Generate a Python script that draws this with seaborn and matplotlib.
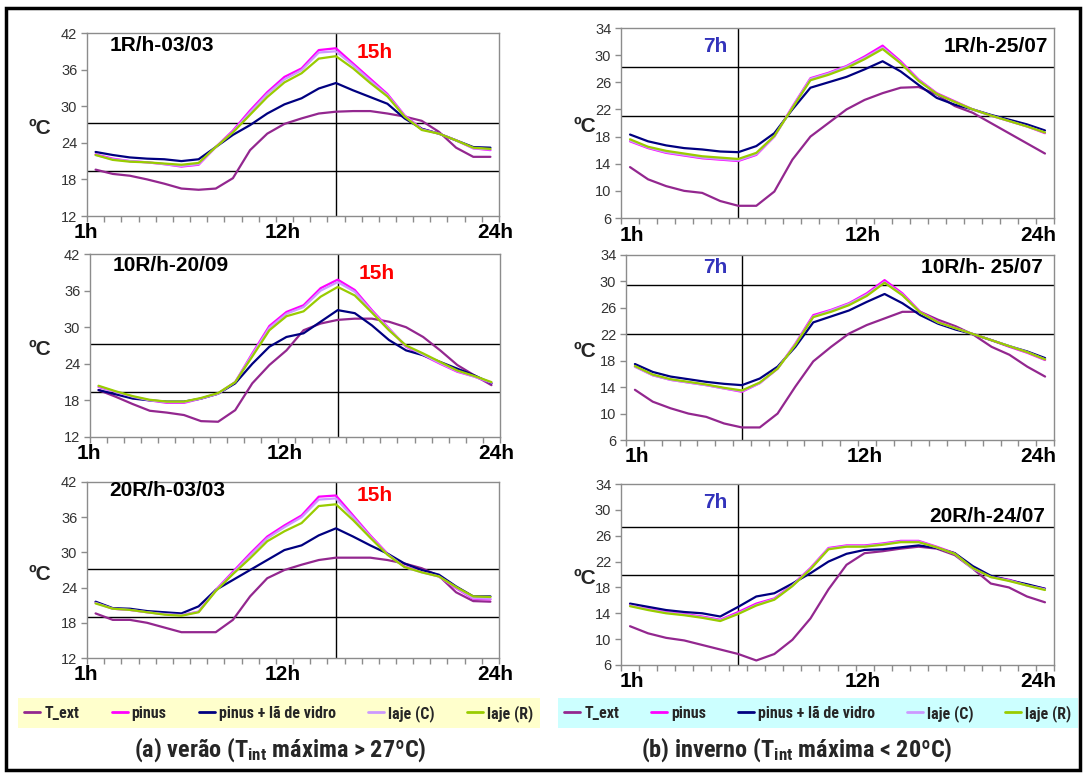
import numpy as np
import pandas as pd
import seaborn as sns
import matplotlib
matplotlib.use("Agg")
import matplotlib.pyplot as plt
from matplotlib.lines import Line2D
from matplotlib.patches import Rectangle
from matplotlib.font_manager import FontProperties, fontManager
from matplotlib import transforms

# ---------------- data ----------------
hours = list(range(1, 25))
series_names = ["T_ext", "pinus", "pinus + lã de vidro", "laje (C)", "laje (R)"]
series_colors = ["#93278f", "#ff00ff", "#000080", "#cc99ff", "#99cc00"]

# verão 1R/h-03/03
ver1_text = [19.6, 18.9, 18.6, 18.0, 17.3, 16.5, 16.3, 16.5, 18.2, 22.8, 25.5, 27.1, 28.0, 28.8, 29.1, 29.2, 29.2, 28.8, 28.3, 27.6, 25.8, 23.2, 21.7, 21.7]
ver1_pinus = [22.1, 21.4, 21.0, 20.8, 20.5, 20.1, 20.4, 23.3, 26.0, 29.3, 32.3, 34.8, 36.2, 39.2, 39.5, 37.0, 34.5, 32.0, 28.5, 26.3, 25.5, 24.4, 23.1, 22.8]
ver1_pinus_la = [22.5, 22.0, 21.6, 21.4, 21.3, 21.0, 21.3, 23.3, 25.3, 26.9, 28.8, 30.3, 31.3, 32.9, 33.8, 32.6, 31.5, 30.4, 28.0, 26.3, 25.5, 24.4, 23.3, 23.2]
ver1_lajeC = [22.0, 21.3, 21.0, 20.8, 20.5, 20.2, 20.5, 23.3, 25.8, 29.0, 32.0, 34.4, 35.9, 38.8, 39.0, 36.7, 34.2, 31.8, 28.4, 26.2, 25.5, 24.4, 23.1, 22.9]
ver1_lajeR = [22.0, 21.2, 20.9, 20.8, 20.6, 20.4, 20.7, 23.3, 25.7, 28.6, 31.5, 33.9, 35.4, 37.8, 38.2, 36.2, 33.8, 31.6, 28.3, 26.1, 25.5, 24.4, 23.2, 23.0]

# verão 10R/h-20/09
ver2_text = [19.7, 18.6, 17.4, 16.3, 16.0, 15.6, 14.6, 14.5, 16.4, 20.8, 23.8, 26.2, 29.5, 30.6, 31.2, 31.4, 31.4, 30.9, 30.0, 28.4, 26.2, 23.8, 22.1, 20.5]
ver2_pinus = [20.2, 19.4, 18.6, 18.0, 17.6, 17.6, 18.3, 19.1, 21.0, 25.7, 30.2, 32.5, 33.6, 36.4, 37.8, 36.1, 32.8, 29.8, 26.8, 25.4, 24.0, 22.7, 21.9, 20.8]
ver2_pinus_la = [19.7, 19.0, 18.3, 18.0, 17.8, 17.8, 18.3, 19.1, 20.8, 24.0, 26.8, 28.4, 29.0, 30.9, 32.8, 32.3, 30.3, 27.9, 26.2, 25.4, 24.3, 23.2, 22.1, 20.8]
ver2_lajeC = [20.3, 19.4, 18.6, 18.0, 17.7, 17.7, 18.3, 19.1, 21.0, 25.5, 29.9, 32.2, 33.3, 36.0, 37.4, 35.8, 32.6, 29.7, 26.9, 25.5, 24.1, 22.8, 21.9, 20.9]
ver2_lajeR = [20.4, 19.5, 18.7, 18.1, 17.8, 17.8, 18.4, 19.2, 21.0, 25.2, 29.5, 31.8, 32.6, 35.0, 36.6, 35.2, 32.4, 29.5, 27.0, 25.7, 24.3, 22.9, 22.0, 21.0]

# verão 20R/h-03/03
ver3_text = [19.6, 18.5, 18.5, 18.0, 17.2, 16.4, 16.4, 16.4, 18.5, 22.5, 25.6, 27.0, 27.9, 28.7, 29.1, 29.1, 29.1, 28.7, 28.1, 27.3, 26.0, 23.2, 21.7, 21.6]
ver3_pinus = [21.5, 20.4, 20.2, 19.8, 19.5, 19.3, 19.9, 23.6, 26.7, 29.8, 32.7, 34.6, 36.3, 39.5, 39.7, 36.3, 32.9, 29.8, 27.6, 26.7, 25.9, 23.9, 22.1, 22.0]
ver3_pinus_la = [21.6, 20.5, 20.4, 20.0, 19.8, 19.6, 20.8, 23.6, 25.3, 27.0, 28.7, 30.4, 31.2, 32.9, 34.1, 32.7, 31.2, 29.8, 28.1, 27.0, 26.2, 24.2, 22.5, 22.5]
ver3_lajeC = [21.4, 20.4, 20.2, 19.8, 19.5, 19.3, 19.9, 23.5, 26.5, 29.5, 32.4, 34.3, 36.0, 39.0, 39.2, 36.0, 32.7, 29.7, 27.5, 26.6, 25.9, 24.0, 22.2, 22.1]
ver3_lajeR = [21.3, 20.4, 20.2, 19.8, 19.4, 19.2, 19.8, 23.4, 26.3, 29.0, 31.9, 33.6, 35.0, 37.9, 38.2, 35.5, 32.5, 29.6, 27.5, 26.6, 25.9, 24.1, 22.5, 22.4]

# inverno 1R/h-25/07
inv1_text = [13.5, 11.7, 10.7, 10.0, 9.7, 8.5, 7.8, 7.8, 9.9, 14.6, 18.0, 20.0, 22.0, 23.4, 24.4, 25.2, 25.3, 24.2, 22.5, 21.5, 20.0, 18.5, 17.0, 15.5]
inv1_pinus = [17.3, 16.3, 15.6, 15.2, 14.8, 14.6, 14.4, 15.3, 18.0, 22.4, 26.6, 27.4, 28.4, 29.8, 31.4, 29.1, 26.4, 24.4, 23.2, 22.0, 21.1, 20.3, 19.5, 18.5]
inv1_pinus_la = [18.3, 17.3, 16.7, 16.3, 16.1, 15.8, 15.7, 16.6, 18.5, 22.0, 25.2, 26.0, 26.8, 27.9, 29.1, 27.6, 25.6, 23.7, 22.7, 22.0, 21.2, 20.5, 19.8, 18.9]
inv1_lajeC = [17.4, 16.4, 15.7, 15.3, 14.9, 14.7, 14.5, 15.4, 18.0, 22.3, 26.5, 27.3, 28.3, 29.6, 31.1, 28.9, 26.3, 24.3, 23.1, 22.0, 21.1, 20.3, 19.5, 18.6]
inv1_lajeR = [17.6, 16.5, 15.9, 15.5, 15.1, 14.9, 14.7, 15.6, 18.1, 22.2, 26.3, 27.1, 28.1, 29.4, 30.9, 28.8, 26.2, 24.3, 23.1, 22.0, 21.1, 20.3, 19.5, 18.6]

# inverno 10R/h- 25/07
inv2_text = [13.6, 11.8, 10.8, 10.0, 9.5, 8.5, 7.9, 7.9, 10.0, 14.1, 17.9, 20.1, 22.1, 23.4, 24.4, 25.4, 25.4, 24.2, 23.2, 21.9, 20.1, 18.9, 17.1, 15.6]
inv2_pinus = [17.1, 15.8, 15.1, 14.7, 14.3, 13.8, 13.3, 14.6, 16.8, 20.6, 24.9, 25.7, 26.7, 28.2, 30.2, 28.2, 25.4, 23.9, 22.9, 22.0, 21.1, 20.1, 19.2, 18.1]
inv2_pinus_la = [17.5, 16.3, 15.6, 15.2, 14.8, 14.5, 14.3, 15.3, 17.1, 20.1, 23.8, 24.7, 25.6, 26.9, 28.1, 26.7, 24.9, 23.6, 22.7, 22.0, 21.1, 20.2, 19.4, 18.4]
inv2_lajeC = [17.1, 15.8, 15.1, 14.7, 14.3, 13.8, 13.4, 14.6, 16.8, 20.5, 24.7, 25.6, 26.6, 28.0, 29.9, 28.0, 25.3, 23.8, 22.9, 22.0, 21.1, 20.2, 19.3, 18.2]
inv2_lajeR = [17.2, 15.9, 15.2, 14.8, 14.4, 13.9, 13.5, 14.7, 16.8, 20.4, 24.6, 25.4, 26.4, 27.8, 29.8, 27.9, 25.3, 23.8, 22.9, 22.0, 21.1, 20.2, 19.3, 18.2]

# inverno 20R/h-24/07
inv3_text = [12.0, 10.9, 10.2, 9.8, 9.1, 8.4, 7.7, 6.7, 7.7, 9.9, 13.2, 17.7, 21.5, 23.3, 23.6, 24.0, 24.3, 24.0, 23.0, 20.9, 18.6, 18.0, 16.6, 15.7]
inv3_pinus = [15.3, 14.7, 14.2, 13.9, 13.5, 13.0, 14.2, 15.5, 16.3, 18.4, 21.0, 24.1, 24.5, 24.5, 24.8, 25.2, 25.2, 24.3, 23.3, 21.0, 19.7, 19.2, 18.4, 17.8]
inv3_pinus_la = [15.5, 15.0, 14.5, 14.2, 14.0, 13.5, 15.0, 16.6, 17.1, 18.6, 20.2, 22.0, 23.2, 23.8, 23.9, 24.2, 24.5, 24.1, 23.3, 21.3, 19.8, 19.1, 18.5, 17.8]
inv3_lajeC = [15.2, 14.6, 14.1, 13.8, 13.4, 12.9, 14.0, 15.3, 16.2, 18.3, 20.9, 24.0, 24.4, 24.4, 24.7, 25.1, 25.1, 24.2, 23.2, 20.9, 19.6, 19.1, 18.3, 17.7]
inv3_lajeR = [15.1, 14.5, 14.0, 13.7, 13.3, 12.8, 13.9, 15.2, 16.1, 18.2, 20.8, 23.9, 24.3, 24.3, 24.6, 25.0, 25.0, 24.2, 23.2, 21.0, 19.6, 19.0, 18.3, 17.6]

panel_titles = ["1R/h-03/03", "10R/h-20/09", "20R/h-03/03",
                "1R/h-25/07", "10R/h- 25/07", "20R/h-24/07"]
summer_yticks = [12, 18, 24, 30, 36, 42]
winter_yticks = [6, 10, 14, 18, 22, 26, 30, 34]
summer_hlines = [[27.3, 19.4], [27.3, 19.3], [27.2, 19.0]]
winter_hlines = [[28.2, 21.1], [29.4, 22.0], [27.3, 19.9]]
summer_vline = 15
winter_vline = 7
hour_labels = ["1h", "12h", "24h"]
legend_labels = series_names
captions = [r"(a) verão (T$_{\mathbf{int}}$ máxima > 27ºC)",
            r"(b) inverno (T$_{\mathbf{int}}$ máxima < 20ºC)"]

# ---------------- style ----------------
sns.set_theme(style="white")
plt.rcParams["font.family"] = ["Liberation Sans", "DejaVu Sans"]

available = {f.name for f in fontManager.ttflist}
narrow_name = None
for cand in ["Liberation Sans Narrow", "DejaVu Sans Condensed", "Roboto Condensed",
             "Open Sans Condensed", "Noto Sans Condensed"]:
    if cand in available:
        narrow_name = cand
        break
if narrow_name is None:
    narrow_name = "Liberation Sans"
    cap_size, leg_size = 15, 9.5
else:
    cap_size, leg_size = 17.5, 11.5
NARROW = [narrow_name, "DejaVu Sans"]
plt.rcParams["mathtext.fontset"] = "custom"
plt.rcParams["mathtext.bf"] = narrow_name + ":bold"
plt.rcParams["mathtext.rm"] = narrow_name + ":bold"
plt.rcParams["mathtext.it"] = narrow_name + ":bold"

W, H = 1085, 774
fig = plt.figure(figsize=(W / 100, H / 100), dpi=100)
fig.patch.set_facecolor("white")


def rect(x0, y0, x1, y1):
    return [x0 / W, 1 - y1 / H, (x1 - x0) / W, (y1 - y0) / H]


def make_df(t, p, pl, lc, lr):
    frames = []
    for name, vals in zip(series_names, [t, p, pl, lc, lr]):
        frames.append(pd.DataFrame({"hora": hours, "temp": vals, "serie": name}))
    return pd.concat(frames, ignore_index=True)


panels = [
    (make_df(ver1_text, ver1_pinus, ver1_pinus_la, ver1_lajeC, ver1_lajeR), (87, 33, 499, 216), True, 0),
    (make_df(ver2_text, ver2_pinus, ver2_pinus_la, ver2_lajeC, ver2_lajeR), (90, 254, 500, 437), True, 1),
    (make_df(ver3_text, ver3_pinus, ver3_pinus_la, ver3_lajeC, ver3_lajeR), (87, 482, 499, 658), True, 2),
    (make_df(inv1_text, inv1_pinus, inv1_pinus_la, inv1_lajeC, inv1_lajeR), (621, 28, 1054, 218), False, 0),
    (make_df(inv2_text, inv2_pinus, inv2_pinus_la, inv2_lajeC, inv2_lajeR), (626, 255, 1054, 440), False, 1),
    (make_df(inv3_text, inv3_pinus, inv3_pinus_la, inv3_lajeC, inv3_lajeR), (621, 484, 1054, 665), False, 2),
]

summer_title_y = [0.93, 0.935, 0.95]
summer_mark_y = [0.895, 0.895, 0.925]
winter_title_y = [0.9, 0.93, 0.82]
winter_title_x = [0.986, 0.974, 0.979]
winter_mark_x = [0.19, 0.18, 0.19]
winter_mark_y = [0.9, 0.93, 0.9]

palette = dict(zip(series_names, series_colors))
spine_col = "#8c8c8c"

for df, (x0, y0, x1, y1), summer, row in panels:
    ax = fig.add_axes(rect(x0, y0, x1, y1))
    sns.lineplot(data=df, x="hora", y="temp", hue="serie", hue_order=series_names,
                 palette=palette, estimator=None, sort=False, legend=False,
                 linewidth=1.6, ax=ax)
    ax.set_xlabel("")
    ax.set_ylabel("")
    ax.set_xlim(0.5, 24.5)
    yt = summer_yticks if summer else winter_yticks
    ax.set_ylim(yt[0], yt[-1])
    ax.set_yticks(yt)
    ax.set_xticks([])
    ax.set_xticks(np.arange(0.5, 25.0, 1.0), minor=True)
    ax.tick_params(axis="x", which="minor", direction="out", length=4, width=1,
                   color=spine_col, bottom=True)
    ax.tick_params(axis="y", which="major", direction="out", length=4, width=1,
                   color=spine_col, labelsize=10.5, labelcolor="#333333", left=True, pad=3)
    for s in ax.spines.values():
        s.set_color(spine_col)
        s.set_linewidth(1.0)
        s.set_visible(True)

    hl = summer_hlines[row] if summer else winter_hlines[row]
    for h in hl:
        ax.axhline(h, color="black", lw=1.0, zorder=1)
    ax.axvline(summer_vline if summer else winter_vline, color="black", lw=1.0, zorder=1)

    idx = row if summer else 3 + row
    if summer:
        ax.text(0.055, summer_title_y[row], panel_titles[idx], transform=ax.transAxes,
                ha="left", va="center", fontsize=15, fontweight="bold", color="black")
        ax.text(0.655, summer_mark_y[row], "15h", transform=ax.transAxes,
                ha="left", va="center", fontsize=15, fontweight="bold", color="#ff0000")
        hx = [0.45, 11.9, 24.3]
        ylab_x = 40
    else:
        ax.text(winter_title_x[row], winter_title_y[row], panel_titles[idx], transform=ax.transAxes,
                ha="right", va="center", fontsize=15, fontweight="bold", color="black")
        ax.text(winter_mark_x[row], winter_mark_y[row], "7h", transform=ax.transAxes,
                ha="left", va="center", fontsize=15, fontweight="bold", color="#3333bb")
        hx = [1.1, 13.9, 23.6]
        ylab_x = 585
    trans = transforms.blended_transform_factory(ax.transData, ax.transAxes)
    for xv, lab in zip(hx, hour_labels):
        ax.text(xv, -0.04, lab, transform=trans, ha="center", va="top",
                fontsize=15, fontweight="bold", color="black")
    fig.text(ylab_x / W, 1 - ((y0 + y1) / 2 + 4) / H, "ºC", ha="center", va="center",
             fontsize=15, fontweight="bold")

# legends
handles = [Line2D([0], [0], color=c, lw=2) for c in series_colors]
leg_font = FontProperties(family=NARROW, weight="bold", size=leg_size)
common = dict(loc="lower left", mode="expand", ncol=5, edgecolor="none", framealpha=1,
              fancybox=False, borderaxespad=0, handlelength=1.0, handletextpad=0.25,
              columnspacing=0.6, prop=leg_font, borderpad=0.4)
leg1 = fig.legend(handles, legend_labels,
                  bbox_to_anchor=(18 / W, 1 - 728 / H, 522 / W, 28 / H),
                  facecolor="#ffffcc", **common)
fig.add_artist(leg1)
leg2 = fig.legend(handles, legend_labels,
                  bbox_to_anchor=(558 / W, 1 - 728 / H, 520 / W, 28 / H),
                  facecolor="#ccffff", **common)

# captions
fig.text(280 / W, 1 - 750 / H, captions[0], ha="center", va="center",
         fontsize=cap_size, fontweight="bold", family=NARROW)
fig.text(797 / W, 1 - 750 / H, captions[1], ha="center", va="center",
         fontsize=cap_size, fontweight="bold", family=NARROW)

# outer frame
fig.add_artist(Rectangle((6 / W, 4 / H), (1080 - 6) / W, (770 - 8) / H,
                         transform=fig.transFigure, fill=False, lw=2.5, ec="black"))

fig.savefig("out.png", dpi=100, facecolor="white")
